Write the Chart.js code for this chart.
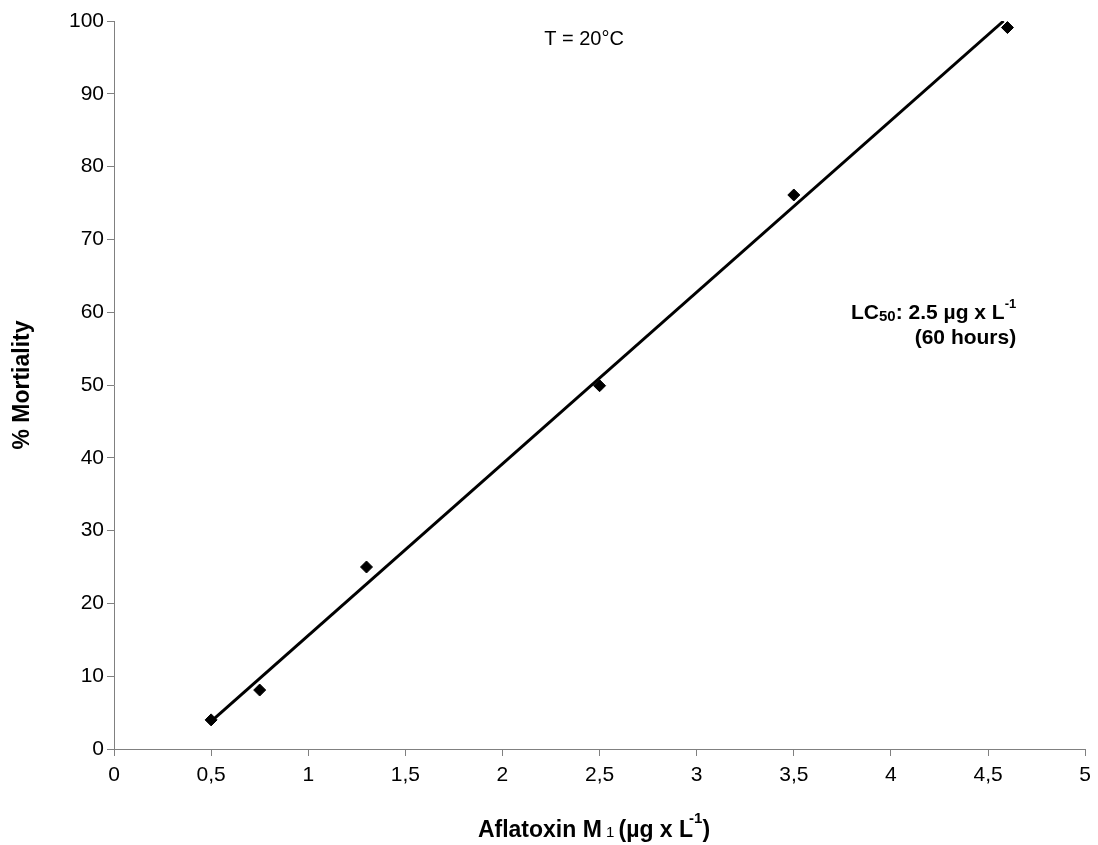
<!DOCTYPE html>
<html>
<head>
<meta charset="utf-8">
<script src="https://cdn.jsdelivr.net/npm/chart.js@4"></script>
<style>
  html, body { margin: 0; padding: 0; background: #fff; }
  #wrap { width: 1098px; height: 845px; }
</style>
</head>
<body>
<div id="wrap"><canvas id="mortChart" width="1098" height="845"></canvas></div>
<script>
// measured points (Aflatoxin M1 dose vs % mortality)
const doses = [0.5, 0.75, 1.3, 2.5, 3.5, 4.6];
const mortality = [4, 8.1, 25, 49.9, 76.1, 99.1];

// trend line ends
const trendX = [0.5, 4.58];
const trendY = [3.8, 100];

const xTicks = [0, 0.5, 1, 1.5, 2, 2.5, 3, 3.5, 4, 4.5, 5];
const yTicks = [0, 10, 20, 30, 40, 50, 60, 70, 80, 90, 100];

const axisGray = '#808080';
const font = "'Liberation Sans', Arial, sans-serif";

// draw a row of text pieces: [text, font, dy, dxBefore]
function drawParts(c, parts, x, y) {
    parts.forEach(p => {
        c.font = p[1] + font;
        x += p[3] || 0;
        c.fillText(p[0], x, y + p[2]);
        x += c.measureText(p[0]).width;
    });
}
function partsWidth(c, parts) {
    let w = 0;
    parts.forEach(p => { c.font = p[1] + font; w += c.measureText(p[0]).width + (p[3] || 0); });
    return w;
}

// text notes placed in data units
const notes = {
    id: 'notes',
    afterDraw(chart) {
        const c = chart.ctx;
        const xs = chart.scales.x, ys = chart.scales.y;
        c.save();
        c.fillStyle = '#000';
        c.textBaseline = 'middle';

        c.font = '20px ' + font;
        c.textAlign = 'center';
        c.fillText('T = 20°C', xs.getPixelForValue(2.42), ys.getPixelForValue(97.5));
        c.textAlign = 'left';

        // LC50 label, bold with subscript / superscript
        const right = xs.getPixelForValue(4.645);
        const lc = [
            ['LC', 'bold 21px ', 0],
            ['50', 'bold 15px ', 4],
            [': 2.5 µg x L', 'bold 21px ', 0],
            ['-1', 'bold 13px ', -9]
        ];
        drawParts(c, lc, right - partsWidth(c, lc), ys.getPixelForValue(59.9));
        c.font = 'bold 21px ' + font;
        c.textAlign = 'right';
        c.fillText('(60 hours)', right, ys.getPixelForValue(56.4));
        c.textAlign = 'left';

        // x axis title with subscript / superscript
        const tt = [
            ['Aflatoxin M', 'bold 23px ', 0],
            [' 1 ', '15px ', 2],
            ['(µg x L', 'bold 23px ', 0],
            ['-1', 'bold 15px ', -12, -4],
            [')', 'bold 23px ', 0, 0]
        ];
        const w = partsWidth(c, tt);
        drawParts(c, tt, 594 - w / 2, 831);
        c.restore();
    }
};

const ctx = document.getElementById('mortChart').getContext('2d');
const mortChart = new Chart(ctx, {
    type: 'scatter',
    data: {
        datasets: [
            {
                label: 'Mortality',
                data: doses.map((d, i) => ({ x: d, y: mortality[i] })),
                pointStyle: 'rectRot',
                pointRadius: 6,
                pointBackgroundColor: '#000',
                pointBorderColor: '#000',
                showLine: false
            },
            {
                label: 'Trend',
                data: trendX.map((d, i) => ({ x: d, y: trendY[i] })),
                showLine: true,
                borderColor: '#000',
                borderWidth: 3,
                pointRadius: 0
            }
        ]
    },
    options: {
        responsive: false,
        animation: false,
        layout: { padding: { top: 21, right: 9, bottom: 0, left: 0 } },
        plugins: {
            legend: { display: false },
            tooltip: { enabled: false }
        },
        scales: {
            x: {
                type: 'linear',
                min: 0,
                max: 5,
                afterBuildTicks: s => { s.ticks = xTicks.map(v => ({ value: v })); },
                afterFit: s => { s.height = 96; },
                border: { color: axisGray, width: 1 },
                grid: { drawOnChartArea: false, color: axisGray, tickLength: 7 },
                ticks: {
                    color: '#000',
                    font: { family: font, size: 21 },
                    padding: 7,
                    maxRotation: 0,
                    callback: v => String(v).replace('.', ',')
                },
                title: { display: false }
            },
            y: {
                min: 0,
                max: 100,
                afterBuildTicks: s => { s.ticks = yTicks.map(v => ({ value: v })); },
                afterFit: s => { s.width = 114; },
                border: { color: axisGray, width: 1 },
                grid: { drawOnChartArea: false, color: axisGray, tickLength: 7 },
                ticks: {
                    color: '#000',
                    font: { family: font, size: 21 },
                    padding: 3
                },
                title: {
                    display: true,
                    text: '% Mortiality',
                    color: '#000',
                    font: { family: font, size: 23, weight: 'bold' },
                    padding: { top: 9, bottom: 0 }
                }
            }
        }
    },
    plugins: [notes]
});
</script>
</body>
</html>
